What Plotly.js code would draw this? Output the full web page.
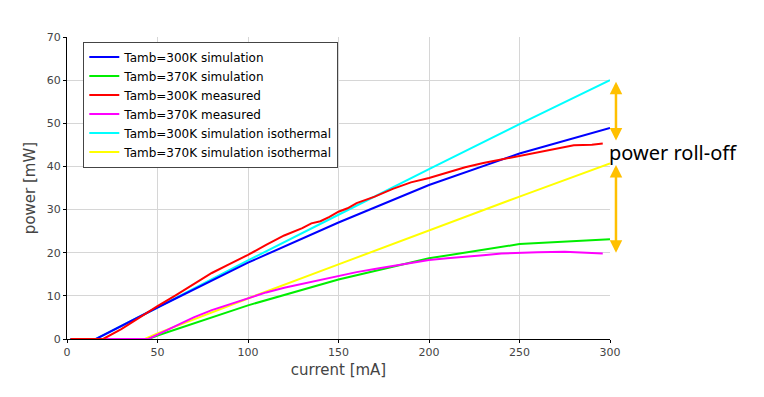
<!DOCTYPE html>
<html><head><meta charset="utf-8">
<script src="https://cdn.plot.ly/plotly-3.0.1.min.js"></script>
<style>body{margin:0;background:#fff}#c{width:764px;height:397px}</style>
</head><body><div id="c"></div>
<script>
const blueX = [2, 16, 50, 100, 150, 200, 250, 300];
const blueY = [0, 0, 7.3, 17.7, 27.0, 35.7, 43.0, 48.9];
const greenX = [2, 45, 50, 100, 150, 200, 250, 300];
const greenY = [0, 0, 0.8, 7.8, 13.8, 18.7, 22.0, 23.1];
const redX = [2, 20, 30, 40, 50, 60, 70, 80, 90, 100, 110, 120, 130, 135, 140, 145, 150, 155, 160, 170, 180, 190, 200, 210, 220, 230, 240, 250, 260, 270, 280, 290, 296];
const redY = [0, 0, 2.3, 5.0, 7.6, 10.1, 12.8, 15.3, 17.4, 19.5, 21.8, 24.0, 25.7, 26.8, 27.3, 28.3, 29.5, 30.3, 31.5, 33.0, 34.8, 36.3, 37.3, 38.5, 39.8, 40.8, 41.6, 42.4, 43.2, 44.0, 44.9, 45.0, 45.3];
const magX = [2, 45, 50, 60, 70, 80, 90, 100, 110, 120, 130, 140, 150, 160, 170, 180, 190, 200, 210, 220, 230, 240, 250, 260, 275, 285, 296];
const magY = [0, 0, 1.0, 3.0, 5.0, 6.7, 8.1, 9.4, 10.8, 11.9, 12.8, 13.8, 14.7, 15.5, 16.2, 16.9, 17.6, 18.3, 18.7, 19.0, 19.4, 19.8, 20.0, 20.1, 20.2, 20.0, 19.8];
const cyanX = [2, 16, 50, 100, 150, 200, 250, 300];
const cyanY = [0, 0, 7.3, 18.2, 28.8, 39.4, 49.8, 60.0];
const yellowX = [2, 43, 50, 100, 150, 200, 250, 300];
const yellowY = [0, 0, 1.3, 9.4, 17.3, 25.2, 33.0, 40.7];
const names = ["Tamb=300K simulation","Tamb=370K simulation","Tamb=300K measured","Tamb=370K measured","Tamb=300K simulation isothermal","Tamb=370K simulation isothermal"];
const rollOffLabel = "power roll-off";
const arrowUpper = [60, 46];
const arrowLower = [40.7, 20];
const arrowXPaper = 1.011;

const series = [
  [blueX, blueY, '#0000ff'],
  [greenX, greenY, '#00ee00'],
  [redX, redY, '#ff0000'],
  [magX, magY, '#ff00ff'],
  [cyanX, cyanY, '#00ffff'],
  [yellowX, yellowY, '#ffff00']
];
const traces = series.map((s, i) => ({
  x: s[0], y: s[1], name: names[i], type: 'scatter', mode: 'lines',
  legendrank: i + 1,
  line: {color: s[2], width: 2}
}));
const order = [4, 5, 1, 3, 0, 2];
const data = order.map(i => traces[i]);

const font = {family: 'DejaVu Sans', size: 11, color: '#444'};
function arrow(pair) {
  return {x: arrowXPaper, y: pair[1], xref: 'paper', yref: 'y', ax: 0, ay: pair[0], axref: 'pixel', ayref: 'y',
    showarrow: true, arrowhead: 2, startarrowhead: 2, arrowside: 'end+start', arrowwidth: 2.5,
    arrowsize: 1, startarrowsize: 1, arrowcolor: '#ffc000', text: ''};
}
const layout = {
  width: 764, height: 397,
  margin: {l: 67, r: 154, t: 37, b: 58},
  paper_bgcolor: '#fff', plot_bgcolor: '#fff',
  showlegend: true,
  legend: {
    x: 0.03, y: 0.985, xanchor: 'left', yanchor: 'top',
    bordercolor: '#444', borderwidth: 1, bgcolor: '#fff',
    font: {family: 'DejaVu Sans', size: 12, color: '#000'},
    traceorder: 'normal', itemwidth: 30, tracegroupgap: 0
  },
  xaxis: {
    range: [0, 300], dtick: 50, tick0: 0, showgrid: true, gridcolor: '#d6d6d6',
    showline: true, linecolor: '#000', linewidth: 1, ticks: 'outside', ticklen: 3, tickcolor: '#000',
    zeroline: false, tickfont: font,
    title: {text: 'current [mA]', font: {family: 'DejaVu Sans', size: 15, color: '#444'}, standoff: 6}
  },
  yaxis: {
    range: [0, 70], dtick: 10, tick0: 0, showgrid: true, gridcolor: '#d6d6d6',
    showline: true, linecolor: '#000', linewidth: 1, ticks: 'outside', ticklen: 3, tickcolor: '#000',
    zeroline: false, tickfont: font,
    title: {text: 'power [mW]', font: {family: 'DejaVu Sans', size: 15, color: '#444'}, standoff: 7}
  },
  annotations: [
    arrow(arrowUpper),
    arrow(arrowLower),
    {x: 300, y: 43.2, xref: 'x', yref: 'y', xanchor: 'left', yanchor: 'middle', showarrow: false, xshift: -3,
     text: rollOffLabel, font: {family: 'Noto Sans', size: 20, color: '#000'}}
  ]
};
Plotly.newPlot('c', data, layout, {displayModeBar: false, staticPlot: true});
</script></body></html>
